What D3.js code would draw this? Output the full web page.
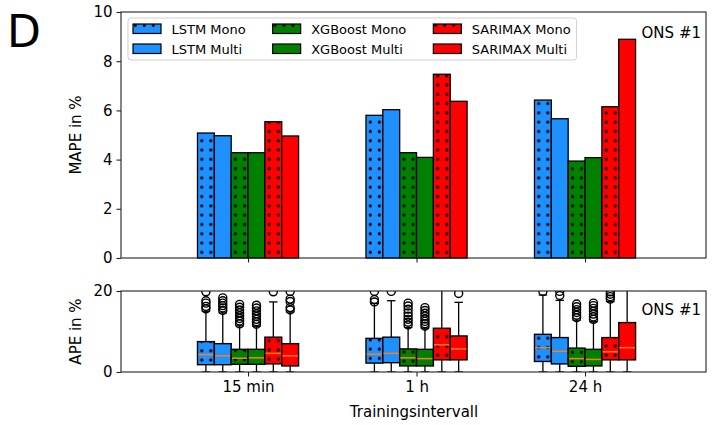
<!DOCTYPE html>
<html>
<head>
<meta charset="utf-8">
<script src="https://cdn.jsdelivr.net/npm/d3@7"></script>
<style>
  body { margin: 0; background: #fff; }
  text { font-family: "DejaVu Sans", sans-serif; fill: #000; }
</style>
</head>
<body>
<div id="chart"></div>
<script>
// categories and series
var categories = ["15 min", "1 h", "24 h"];
var seriesNames = ["LSTM Mono", "LSTM Multi", "XGBoost Mono", "XGBoost Multi", "SARIMAX Mono", "SARIMAX Multi"];
var seriesColors = ["#1e90ff", "#1e90ff", "#008000", "#008000", "#ff0000", "#ff0000"];
var seriesDotted = [true, false, true, false, true, false];

// MAPE per series, one value per category
var mapeLSTMMono = [5.08, 5.80, 6.42];
var mapeLSTMMulti = [4.97, 6.03, 5.66];
var mapeXGBMono = [4.28, 4.28, 3.94];
var mapeXGBMulti = [4.28, 4.09, 4.08];
var mapeSARIMAXMono = [5.54, 7.47, 6.15];
var mapeSARIMAXMulti = [4.96, 6.37, 8.89];
var mapeValues = [mapeLSTMMono, mapeLSTMMulti, mapeXGBMono, mapeXGBMulti, mapeSARIMAXMono, mapeSARIMAXMulti];

// APE box stats per category: [lower whisker, q1, median, q3, upper whisker] per series
var ape15min = [
  [0, 1.8, 4.3, 7.5, 15.0], [0, 1.8, 4.0, 7.0, 14.6], [0, 1.9, 3.4, 5.6, 11.4],
  [0, 1.9, 3.5, 5.6, 11.3], [0, 2.0, 4.6, 8.6, 17.3], [0, 1.5, 4.0, 7.0, 14.8]
];
var ape1h = [
  [0, 2.2, 4.4, 8.3, 16.9], [0, 2.3, 4.6, 8.6, 17.6], [0, 1.5, 3.5, 5.7, 11.0],
  [0, 1.5, 3.3, 5.6, 10.8], [0, 3.0, 6.7, 10.8, 21.0], [0, 3.0, 5.7, 8.9, 17.2]
];
var ape24h = [
  [0, 2.6, 6.0, 9.3, 19.0], [0, 2.0, 5.1, 8.5, 17.7], [0, 1.4, 3.3, 5.9, 12.8],
  [0, 1.5, 3.1, 5.6, 12.4], [0, 3.0, 5.0, 8.5, 17.4], [0, 3.0, 6.0, 12.2, 21.0]
];
var apeStats = [ape15min, ape1h, ape24h];

// outliers per category, per series
var out15min = [
  [15.6, 16.2, 17.0, 17.6, 19.8],
  [15.2, 15.8, 16.4, 17.0, 17.6, 18.3],
  [11.9, 12.6, 13.2, 13.9, 14.6, 15.3, 16.0, 16.7],
  [11.8, 12.4, 13.0, 13.7, 14.4, 15.1, 15.8, 16.5],
  [19.8],
  [15.3, 15.9, 17.4, 18.0, 19.9]
];
var out1h = [
  [17.3, 17.9, 19.9],
  [19.9],
  [11.6, 12.3, 13.0, 13.8, 14.6, 15.5, 16.3, 17.0],
  [11.3, 11.9, 12.5, 13.1, 13.8, 14.5, 15.2, 15.9],
  [],
  [19.4]
];
var out24h = [
  [19.9],
  [18.9, 19.9],
  [13.4, 14.0, 14.7, 15.4, 16.1, 16.8],
  [13.0, 13.6, 14.3, 15.0, 15.7, 16.4, 17.0],
  [18.0, 18.6, 19.2, 19.8],
  []
];
var apeOutliers = [out15min, out1h, out24h];

var mapeTicks = [0, 2, 4, 6, 8, 10];
var apeTicks = [0, 20];

(function() {
var width = 712, height = 425;
var left = 121, right = 706;

var svg = d3.select("#chart").append("svg")
    .attr("width", width)
    .attr("height", height);

var defs = svg.append("defs");

// dotted hatch for the Mono series, one pattern per mark so the dots sit inside each bar
var patCount = 0;
function fillFor(i, x0, y0) {
  if (!seriesDotted[i]) return seriesColors[i];
  var id = "dots" + (patCount++);
  var p = defs.append("pattern")
      .attr("id", id)
      .attr("patternUnits", "userSpaceOnUse")
      .attr("x", x0).attr("y", y0)
      .attr("width", 9).attr("height", 9.3);
  p.append("rect").attr("width", 9).attr("height", 9.3).attr("fill", seriesColors[i]);
  p.append("circle").attr("cx", 4.3).attr("cy", 4.6).attr("r", 1.6).attr("fill", "#000");
  return "url(#" + id + ")";
}

var x = d3.scaleLinear().domain([-0.754, 2.718]).range([left, right]);
var barW = 0.1;
function offset(i) { return (i - 2.5) * barW; }

// ---- top panel: MAPE bars ----
var yTop = d3.scaleLinear().domain([0, 10]).range([258, 12]);

var topPanel = svg.append("g");
categories.forEach(function(cat, ci) {
  topPanel.append("g").selectAll("rect")
    .data(seriesNames)
    .enter().append("rect")
    .attr("x", function(d, i) { return x(ci + offset(i) - barW / 2); })
    .attr("width", x(barW) - x(0))
    .attr("y", function(d, i) { return yTop(mapeValues[i][ci]); })
    .attr("height", function(d, i) { return yTop(0) - yTop(mapeValues[i][ci]); })
    .attr("fill", function(d, i) { return fillFor(i, x(ci + offset(i) - barW / 2), yTop(0) - 1); })
    .attr("stroke", "#000")
    .attr("stroke-width", 1.3);
});

topPanel.append("g")
    .attr("transform", "translate(" + left + ",0)")
    .call(d3.axisLeft(yTop).tickValues(mapeTicks).tickSize(4.5).tickPadding(4));
topPanel.append("g")
    .attr("transform", "translate(0," + yTop(0) + ")")
    .call(d3.axisBottom(x).tickValues([0, 1, 2]).tickFormat("").tickSize(4.5));

topPanel.append("rect")
    .attr("x", left).attr("y", yTop(10))
    .attr("width", right - left).attr("height", yTop(0) - yTop(10))
    .attr("fill", "none").attr("stroke", "#222").attr("stroke-width", 1.1);

topPanel.append("text")
    .attr("transform", "translate(81," + (yTop(0) + yTop(10)) / 2 + ") rotate(-90)")
    .attr("text-anchor", "middle")
    .style("font-size", "15px")
    .text("MAPE in %");

topPanel.append("text")
    .attr("x", 701).attr("y", 38)
    .attr("text-anchor", "end")
    .style("font-size", "15px")
    .text("ONS #1");

// legend
var legend = svg.append("g").attr("class", "legend");
var legendBox = legend.append("rect")
    .attr("x", 128).attr("y", 18)
    .attr("rx", 3).attr("ry", 3)
    .attr("height", 42)
    .attr("fill", "#fff").attr("fill-opacity", 0.8)
    .attr("stroke", "#d0d0d0").attr("stroke-width", 1);
var colX = 133, legEnd = 0;
for (var col = 0; col < 3; col++) {
  var maxW = 0;
  for (var row = 0; row < 2; row++) {
    var si = col * 2 + row;
    var yy = 24 + row * 20;
    legend.append("rect")
      .attr("x", colX).attr("y", yy)
      .attr("width", 28).attr("height", 9.5)
      .attr("fill", fillFor(si, colX - 2, yy - 3.3))
      .attr("stroke", "#000").attr("stroke-width", 1.2);
    var t = legend.append("text")
      .attr("x", colX + 38.5).attr("y", yy + 9.5)
      .style("font-size", "13px")
      .text(seriesNames[si]);
    maxW = Math.max(maxW, t.node().getComputedTextLength());
  }
  legEnd = colX + 38.5 + maxW;
  colX = legEnd + 27;
}
legendBox.attr("width", legEnd + 6 - 128);

// ---- bottom panel: APE boxes ----
var yBot = d3.scaleLinear().domain([0, 20]).range([372, 291]);

defs.append("clipPath").attr("id", "botClip")
  .append("rect")
  .attr("x", left).attr("y", yBot(20))
  .attr("width", right - left).attr("height", yBot(0) - yBot(20));

var bot = svg.append("g");
var plotArea = bot.append("g").attr("clip-path", "url(#botClip)");
var bw = x(barW) - x(0);

categories.forEach(function(cat, ci) {
  seriesNames.forEach(function(name, i) {
    var s = apeStats[ci][i];
    var cx = x(ci + offset(i));
    var g = plotArea.append("g");
    // whiskers
    g.append("line")
      .attr("x1", cx).attr("x2", cx)
      .attr("y1", yBot(s[0])).attr("y2", yBot(s[1]))
      .attr("stroke", "#000").attr("stroke-width", 1.3);
    g.append("line")
      .attr("x1", cx).attr("x2", cx)
      .attr("y1", yBot(s[3])).attr("y2", yBot(s[4]))
      .attr("stroke", "#000").attr("stroke-width", 1.3);
    // caps
    [s[0], s[4]].forEach(function(v) {
      g.append("line")
        .attr("x1", cx - bw / 4).attr("x2", cx + bw / 4)
        .attr("y1", yBot(v)).attr("y2", yBot(v))
        .attr("stroke", "#000").attr("stroke-width", 1.3);
    });
    // box
    g.append("rect")
      .attr("x", cx - bw / 2).attr("width", bw)
      .attr("y", yBot(s[3])).attr("height", yBot(s[1]) - yBot(s[3]))
      .attr("fill", fillFor(i, cx - bw / 2, yBot(s[1])))
      .attr("stroke", "#000").attr("stroke-width", 1.4);
    // median
    g.append("line")
      .attr("x1", cx - bw / 2 + 0.7).attr("x2", cx + bw / 2 - 0.7)
      .attr("y1", yBot(s[2])).attr("y2", yBot(s[2]))
      .attr("stroke", "#ff7f0e").attr("stroke-width", 1.5);
    // outliers
    g.selectAll("circle.fl")
      .data(apeOutliers[ci][i])
      .enter().append("circle")
      .attr("class", "fl")
      .attr("cx", cx).attr("cy", function(d) { return yBot(d); })
      .attr("r", 4)
      .attr("fill", "none")
      .attr("stroke", "#000").attr("stroke-width", 1.4);
  });
});

bot.append("g")
    .attr("transform", "translate(" + left + ",0)")
    .call(d3.axisLeft(yBot).tickValues(apeTicks).tickSize(4.5).tickPadding(4));
bot.append("g")
    .attr("transform", "translate(0," + yBot(0) + ")")
    .call(d3.axisBottom(x).tickValues([0, 1, 2])
      .tickFormat(function(d) { return categories[d]; })
      .tickSize(4.5).tickPadding(5));

bot.append("rect")
    .attr("x", left).attr("y", yBot(20))
    .attr("width", right - left).attr("height", yBot(0) - yBot(20))
    .attr("fill", "none").attr("stroke", "#222").attr("stroke-width", 1.1);

bot.append("text")
    .attr("transform", "translate(81," + (yBot(0) + yBot(20)) / 2 + ") rotate(-90)")
    .attr("text-anchor", "middle")
    .style("font-size", "15px")
    .text("APE in %");

bot.append("text")
    .attr("x", 701).attr("y", 315)
    .attr("text-anchor", "end")
    .style("font-size", "15px")
    .text("ONS #1");

bot.append("text")
    .attr("x", (left + right) / 2 + 0.5).attr("y", 417)
    .attr("text-anchor", "middle")
    .style("font-size", "15px")
    .text("Trainingsintervall");

// panel letter
svg.append("text")
    .attr("x", 7).attr("y", 47)
    .style("font-size", "44px")
    .text("D");

// axis styling
svg.selectAll(".domain").remove();
svg.selectAll(".tick line").attr("stroke", "#222").attr("stroke-width", 1.1);
svg.selectAll(".tick text")
    .style("font-size", "15px")
    .style("font-family", "DejaVu Sans, sans-serif")
    .attr("fill", "#000");
})();
</script>
</body>
</html>
